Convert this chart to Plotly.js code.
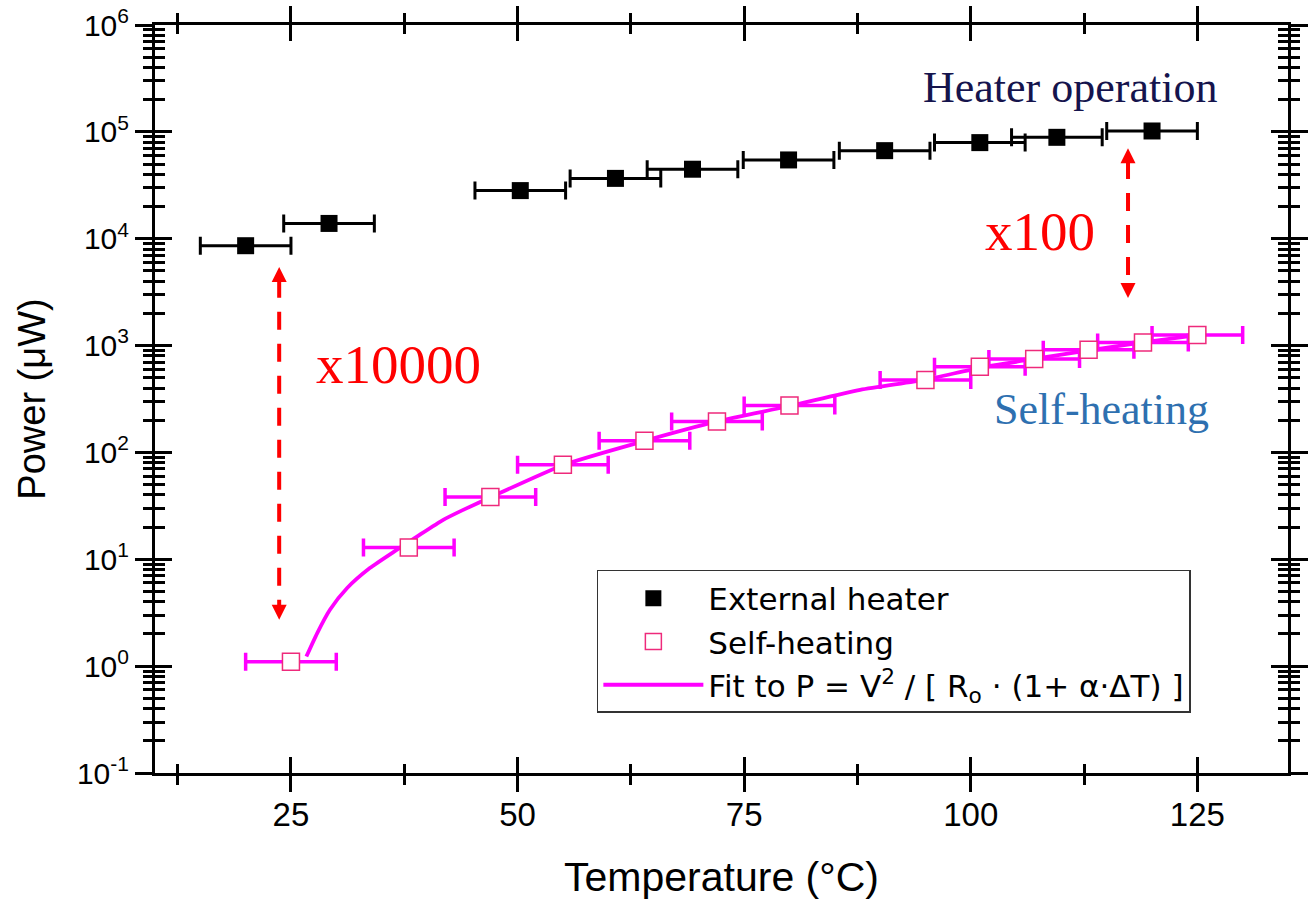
<!DOCTYPE html>
<html><head><meta charset="utf-8">
<script src="https://cdn.plot.ly/plotly-3.0.1.min.js"></script>
<style>html,body{margin:0;padding:0;background:#fff}#chart{width:1313px;height:900px}</style>
</head><body><div id="chart"></div>
<script>
// External heater data
const heaterT = [20, 29.2, 50.3, 60.8, 69.3, 79.9, 90.5, 101.0, 109.5, 120.0];
const heaterP = [8600, 13900, 28200, 36700, 44700, 54600, 66700, 79300, 88900, 101900];
const heaterErr = [5, 5, 5, 5, 5, 5, 5, 5, 5, 5];
// Self-heating data
const selfT = [25, 38, 47, 55, 64, 72, 80, 95, 101, 107, 113, 119, 125];
const selfP = [1.1, 12.9, 38.2, 76.6, 128.5, 194.5, 274.7, 477, 632, 747, 912, 1067, 1259];
const selfErr = [5, 5, 5, 5, 5, 5, 5, 5, 5, 5, 5, 5, 5];
// Fit curve
const fitT = [26.7, 27.9, 29.3, 31.2, 33.7, 36.7, 38.9, 41.8, 44.0, 47, 55, 64, 72, 80, 87.8, 95, 101, 107, 113, 119, 125];
const fitP = [1.23, 2.04, 3.37, 5.38, 8.27, 12.3, 16.3, 23.4, 29.0, 38, 76, 128, 195, 272, 385, 480, 620, 750, 900, 1070, 1250];
// Double-headed comparison arrows (tips)
const arrowX = [23.7, 117.35];
const arrowTop = [5445, 70300];
const arrowBottom = [2.72, 2790];
// Axis ticks
const xTicks = [25, 50, 75, 100, 125];
const xRange = [10, 135];
const yTickVals = [0.1, 1, 10, 100, 1000, 10000, 100000, 1000000];
const yTickText = ['10<sup>-1</sup>', '10<sup>0</sup>', '10<sup>1</sup>', '10<sup>2</sup>', '10<sup>3</sup>', '10<sup>4</sup>', '10<sup>5</sup>', '10<sup>6</sup>'];
const yRange = [-1, 6];

// minor tick positions (2..9 within each decade)
const yMinor = [];
yTickVals.slice(0, -1).forEach(d => { for (let k = 2; k <= 9; k++) yMinor.push(d * k); });

const fitName = 'Fit to P = V<sup>2</sup> / [ R<sub>o</sub> · (1+ α·ΔT) ]';

const traces = [
  {type:'scatter', mode:'lines', x:fitT, y:fitP, name:fitName, legendrank:3,
   line:{color:'#ff00ff', width:3.8, shape:'spline', smoothing:0.6}, hoverinfo:'skip'},
  {type:'scatter', mode:'markers', x:heaterT, y:heaterP, name:'External heater', legendrank:1,
   marker:{symbol:'square', size:17, color:'#000'},
   error_x:{type:'data', array:heaterErr, visible:true, color:'#000', thickness:3, width:9}},
  {type:'scatter', mode:'markers', x:selfT, y:selfP, name:'Self-heating', legendrank:2,
   marker:{symbol:'square', size:17, color:'#ffffff', line:{color:'#ee2a7b', width:1.5}},
   error_x:{type:'data', array:selfErr, visible:true, color:'#ff00ff', thickness:3.5, width:9}},
  {type:'scatter', x:[], y:[], xaxis:'x2', yaxis:'y2', showlegend:false, hoverinfo:'skip'}
];

const dec = 0.12;
arrowX.forEach((ax, i) => {
  traces.push({type:'scatter', mode:'lines', showlegend:false, hoverinfo:'skip',
    x:[ax, ax],
    y:[Math.pow(10, Math.log10(arrowTop[i]) - dec), Math.pow(10, Math.log10(arrowBottom[i]) + dec)],
    line:{color:'#ff0000', width:4, dash:'18px,14px'}});
  traces.push({type:'scatter', mode:'markers', showlegend:false, hoverinfo:'skip',
    x:[ax, ax], y:[arrowTop[i], arrowBottom[i]],
    marker:{symbol:['arrow-up', 'arrow-down'], size:15, color:'#ff0000', line:{width:0}}});
});

const serif = 'Liberation Serif, Times New Roman, serif';
const annotations = [
  {xref:'paper', yref:'paper', x:0.8076, y:0.9158, text:'Heater operation', showarrow:false,
   xanchor:'center', yanchor:'middle', font:{family:serif, size:44, color:'#15144d'}},
  {xref:'paper', yref:'paper', x:0.781, y:0.7233, text:'x100', showarrow:false,
   xanchor:'center', yanchor:'middle', font:{family:serif, size:55, color:'#ff0000'}},
  {xref:'paper', yref:'paper', x:0.2145, y:0.5455, text:'x10000', showarrow:false,
   xanchor:'center', yanchor:'middle', font:{family:serif, size:55, color:'#ff0000'}},
  {xref:'paper', yref:'paper', x:0.8358, y:0.4853, text:'Self-heating', showarrow:false,
   xanchor:'center', yanchor:'middle', font:{family:serif, size:44, color:'#2e70b0'}}
];

const sans = 'Liberation Sans, Arial, sans-serif';
const baseX = {range:xRange, showgrid:false, zeroline:false, showline:true, linewidth:3, linecolor:'#000',
  mirror:'ticks', tickmode:'array', tickvals:xTicks, tickwidth:3, tickcolor:'#000', ticklen:16,
  minor:{tickmode:'linear', tick0:0, dtick:12.5, ticklen:9, tickwidth:3, tickcolor:'#000', ticks:'outside', showgrid:false}};
const baseY = {type:'log', range:yRange, showgrid:false, zeroline:false, showline:true, linewidth:3, linecolor:'#000',
  mirror:'ticks', tickmode:'array', tickvals:yTickVals, ticktext:yTickText, tickwidth:3, tickcolor:'#000', ticklen:17,
  minor:{tickmode:'array', tickvals:yMinor, ticklen:9, tickwidth:3, tickcolor:'#000', ticks:'outside', showgrid:false}};

const layout = {
  width:1313, height:900,
  margin:{l:155, r:25, t:25, b:127},
  paper_bgcolor:'#ffffff', plot_bgcolor:'#ffffff',
  font:{family:sans, color:'#000'},
  showlegend:true,
  legend:{x:0.39, y:0.2714, xanchor:'left', yanchor:'top', bgcolor:'#ffffff', bordercolor:'#333',
    borderwidth:1.5, font:{family:'DejaVu Sans, sans-serif', size:31, color:'#000'}, itemwidth:100,
    tracegroupgap:0},
  xaxis:Object.assign({}, baseX, {ticks:'outside', tickfont:{size:33, family:sans}, ticklabelstandoff:-6,
    title:{text:'Temperature (°C)', font:{size:41, family:sans}, standoff:34}}),
  yaxis:Object.assign({}, baseY, {ticks:'outside', tickfont:{size:30, family:sans},
    title:{text:'Power (μW)', font:{size:38, family:sans}, standoff:20}}),
  xaxis2:Object.assign({}, baseX, {overlaying:'x', anchor:'y2', side:'bottom', ticks:'inside', showticklabels:false,
    minor:Object.assign({}, baseX.minor, {ticks:'inside'})}),
  yaxis2:Object.assign({}, baseY, {overlaying:'y', anchor:'x2', side:'left', ticks:'inside', showticklabels:false,
    minor:Object.assign({}, baseY.minor, {ticks:'inside', ticklen:10})}),
  annotations:annotations
};

Plotly.newPlot('chart', traces, layout, {displayModeBar:false, staticPlot:true});
</script>
</body></html>
